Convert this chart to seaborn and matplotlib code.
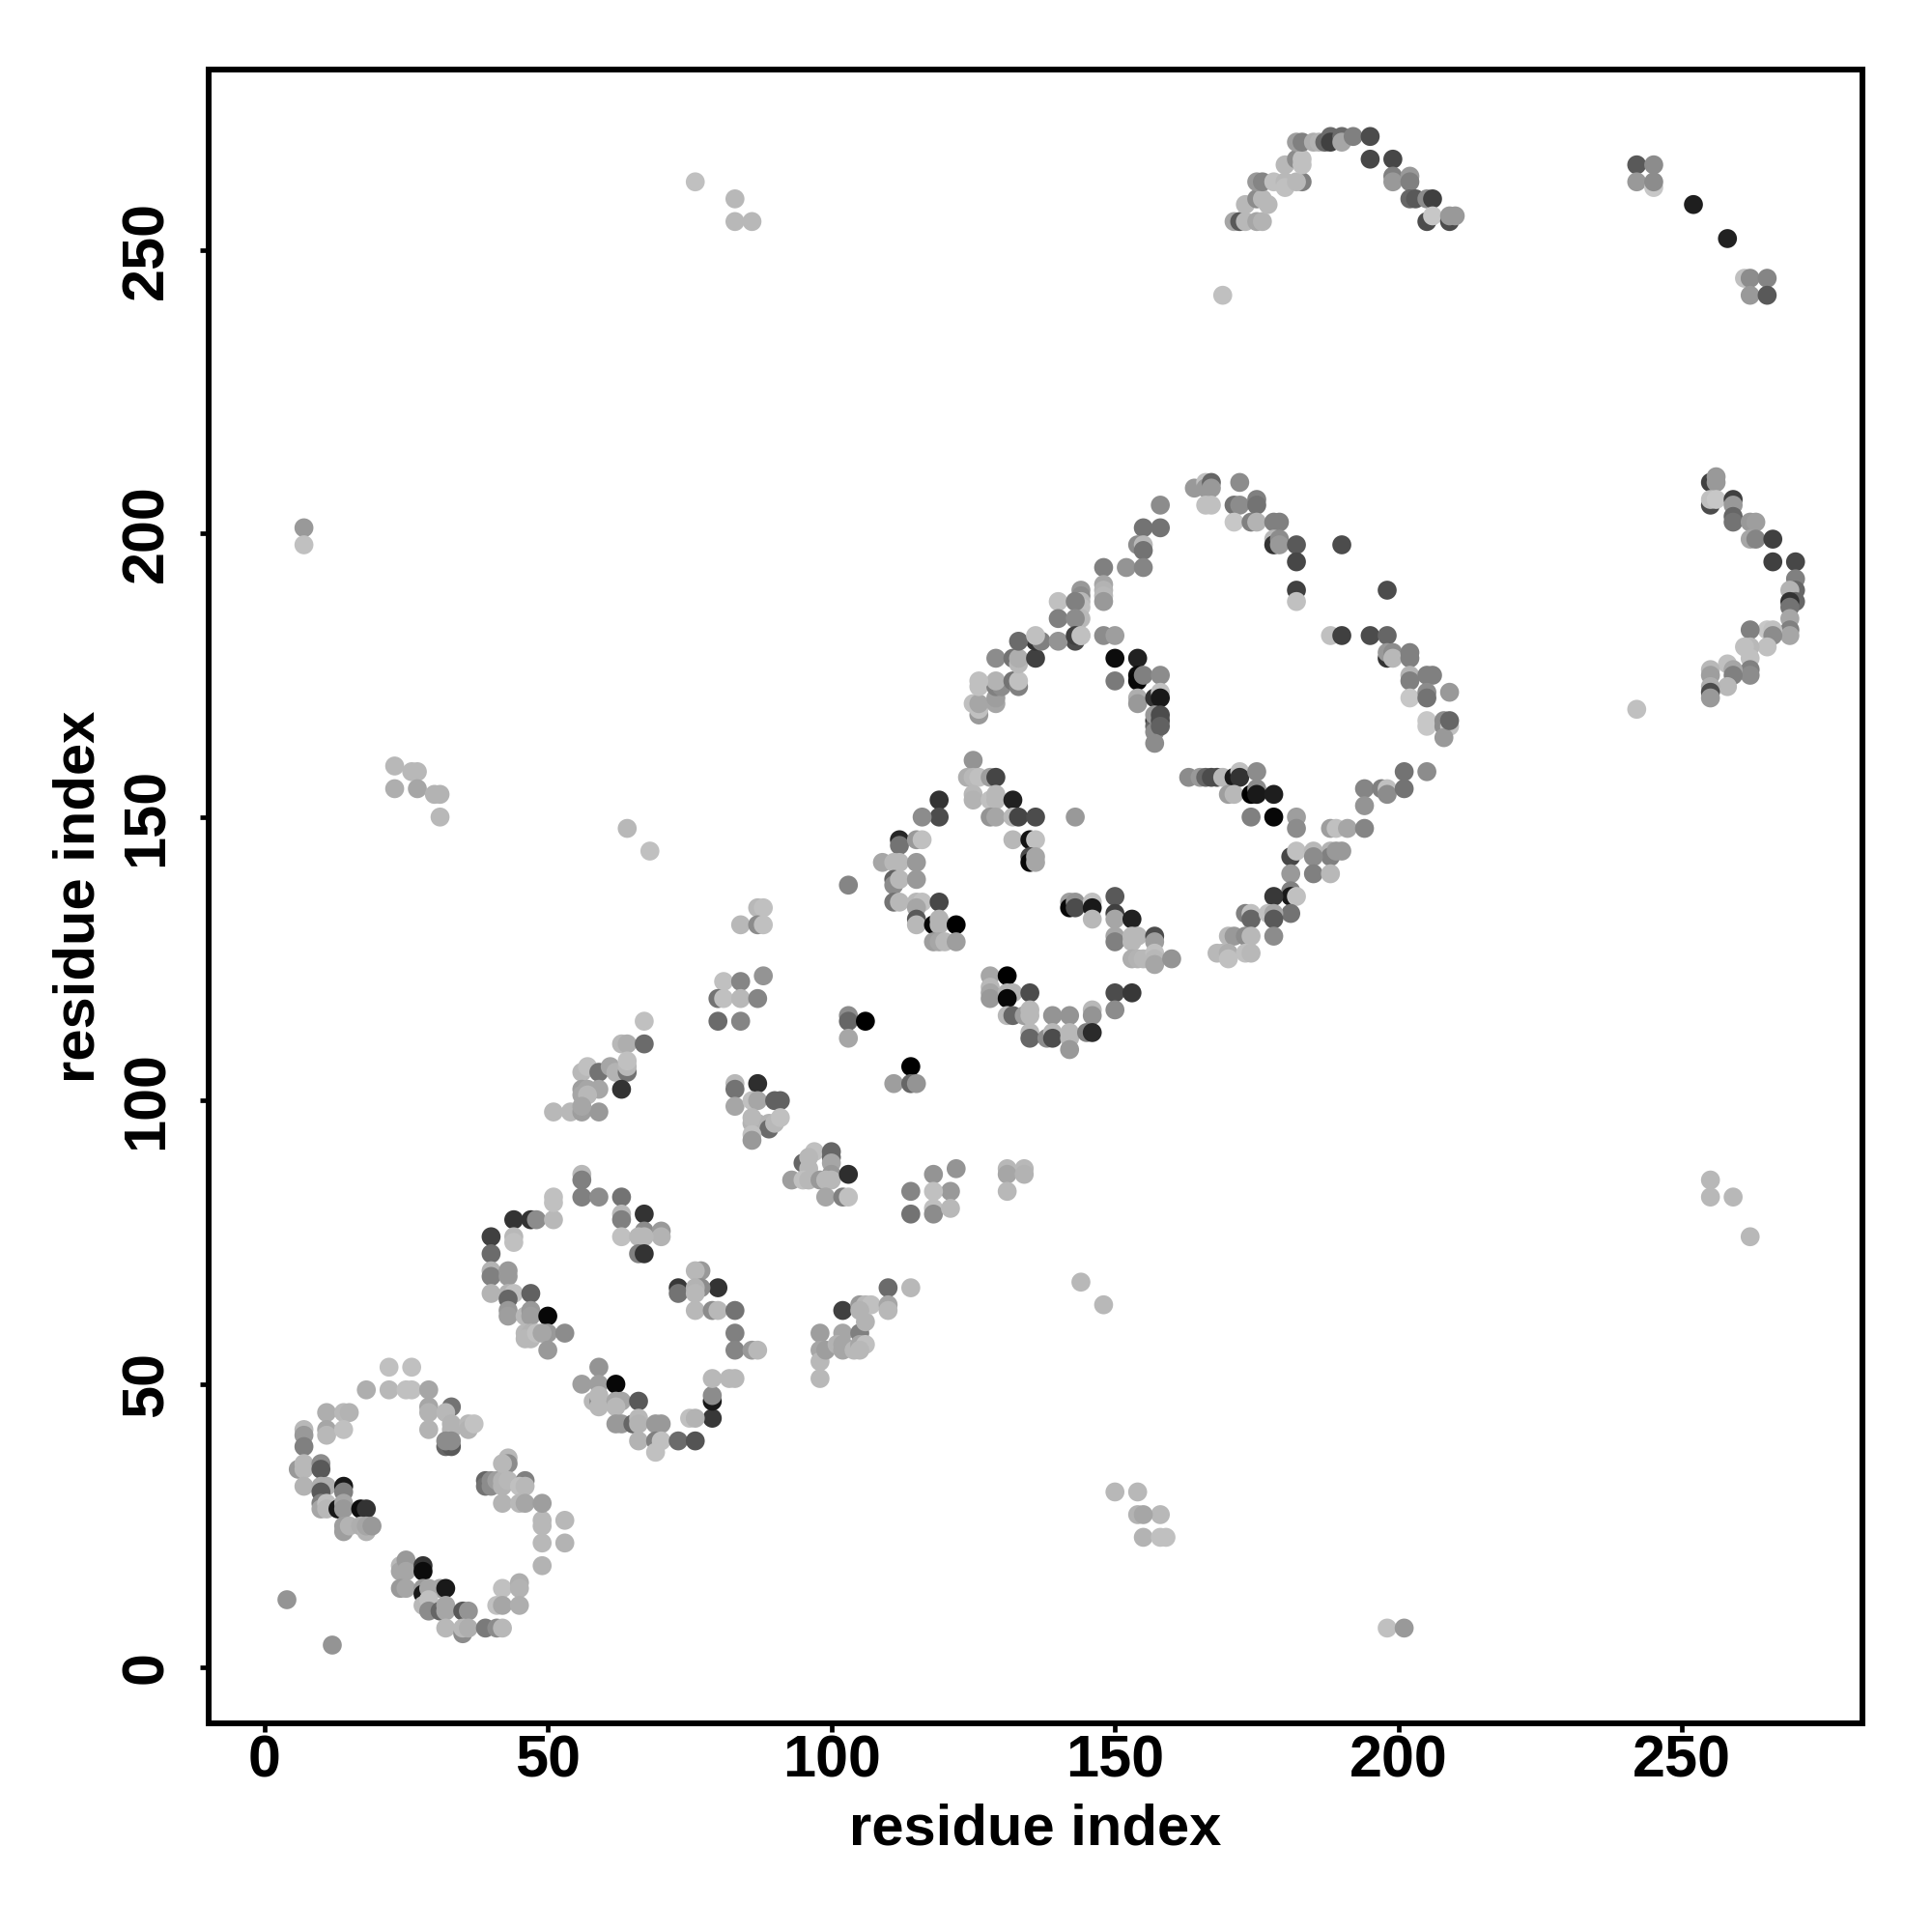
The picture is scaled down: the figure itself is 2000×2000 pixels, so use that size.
import matplotlib
matplotlib.use("Agg")
import matplotlib.pyplot as plt
import pandas as pd
import seaborn as sns

# lower-left ring
ring1_x = [4,12,22,26,18,22,25,26,29,29,29,33,32,29,33,33,36,36,37,32,33,33,32,11,14,15,11,11,14,7,7,7,6,7,7,10,10,7,10,11,10,14,14,10,10,11,11,13,14,14,17,18,14,14,15,17,18,18,19]
ring1_y = [12,4,53,53,49,49,49,49,49,46,45,46,45,42,43,42,43,42,43,39,39,40,40,45,45,45,42,41,42,42,41,39,35,36,35,36,35,32,32,32,31,32,31,29,28,29,28,28,29,28,28,28,25,24,25,25,24,25,25]
ring1_g = [.58,.58,.75,.75,.68,.72,.75,.75,.65,.65,.7,.45,.72,.7,.7,.7,.72,.7,.76,.4,.35,.55,.55,.68,.72,.7,.65,.72,.75,.72,.6,.5,.6,.72,.72,.55,.35,.7,.68,.68,.35,.1,.5,.5,.65,.75,.72,.1,.65,.6,.05,.2,.62,.62,.7,.68,.7,.65,.6]

ring2_x = [24,24,25,25,24,25,28,28,28,28,29,31,32,28,29,29,31,32,32,35,36,32,35,35,36,39,41,42,42,45,45,41,42,45,49,49,49,49,53,53,39,39,40,40,41,42,42,42,43,43,42,43,46,45,46,45,46,49]
ring2_y = [18,17,19,17,14,14,18,17,14,13,14,14,14,11,12,10,10,11,10,10,10,7,6,7,7,7,7,7,14,15,14,11,11,11,18,22,26,25,26,22,33,32,33,32,33,33,32,29,37,36,36,33,33,32,32,29,29,29]
ring2_g = [.72,.65,.6,.65,.6,.65,.2,.05,.6,.1,.65,.65,.1,.72,.75,.55,.4,.65,.65,.35,.58,.72,.55,.72,.68,.48,.55,.72,.75,.68,.7,.75,.65,.68,.7,.72,.72,.72,.72,.7,.4,.45,.55,.55,.62,.7,.7,.7,.72,.55,.72,.72,.5,.75,.72,.72,.65,.62]

band1_x = [40,40,40,40,43,43,40,43,44,47,43,43,43,46,47,47,50,46,47,46,47,48,50,49,53,50,44,47,48,51,51,51,44,44,56,56,56,59,63,63,63,63,67,67,70,70,66,67,66,67]
band1_y = [76,73,70,69,70,69,66,66,66,66,65,63,62,62,63,62,62,59,59,58,58,59,59,59,59,56,79,79,79,79,83,82,76,75,83,87,86,83,83,80,79,76,80,77,77,76,76,76,73,73]
band1_g = [.25,.42,.7,.5,.6,.6,.7,.7,.75,.38,.4,.6,.62,.72,.6,.62,.03,.72,.7,.72,.72,.75,.6,.65,.55,.6,.2,.2,.55,.72,.75,.75,.72,.75,.5,.72,.5,.55,.45,.72,.5,.75,.2,.55,.6,.7,.72,.72,.5,.2]

band2_x = [73,73,80,77,76,77,76,76,76,79,80,83,83,83,86,87,59,56,59,62,58,59,59,59,62,63,66,62,62,63,65,66,66,69,70,66,69,70,69,73,76,79,79,79,75,76,79,82,83]
band2_y = [67,66,67,70,70,67,67,66,63,63,63,63,59,56,56,56,53,50,50,50,47,47,48,46,47,47,47,46,43,43,43,44,43,43,43,40,40,40,38,40,40,44,47,48,44,44,51,51,51]
band2_g = [.22,.45,.2,.6,.72,.55,.7,.72,.72,.55,.72,.45,.5,.52,.6,.72,.58,.62,.62,.03,.72,.55,.72,.72,.65,.65,.35,.72,.6,.6,.4,.72,.7,.6,.6,.7,.5,.75,.75,.42,.33,.22,.1,.55,.75,.7,.72,.72,.72]

band3_x = [67,63,64,67,56,57,59,61,62,64,64,64,63,56,57,59,56,57,51,54,56,59,56,81,84,88,80,81,84,87,80,84,103,103,106,103,114,111,114,115,87,88,84,87,88]
band3_y = [114,110,110,110,105,106,105,106,105,105,106,107,102,102,102,102,101,101,98,98,98,98,99,121,121,122,118,118,118,118,114,114,115,114,114,111,106,103,103,103,134,134,131,131,131]
band3_g = [.75,.72,.68,.42,.72,.75,.45,.65,.7,.45,.72,.75,.2,.62,.65,.65,.65,.72,.72,.72,.62,.6,.65,.75,.52,.58,.45,.75,.72,.52,.42,.52,.55,.4,.0,.65,.0,.62,.4,.58,.72,.75,.72,.55,.75]

band4_x = [83,83,87,83,86,87,90,91,86,87,86,89,89,90,91,86,86,95,97,96,96,96,93,95,96,98,100,100,100,100,99,100,103,99,102,103,114,118,122,121,118,114,118,118,121]
band4_y = [103,102,103,99,100,100,100,100,96,96,97,96,95,96,97,94,93,89,91,90,88,87,86,86,86,86,91,90,89,87,86,86,87,83,83,83,84,87,88,84,84,80,81,80,81]
band4_g = [.72,.45,.18,.65,.75,.65,.38,.38,.7,.7,.72,.7,.42,.72,.75,.75,.6,.4,.75,.72,.72,.72,.62,.75,.72,.6,.4,.4,.65,.6,.72,.72,.18,.65,.5,.75,.52,.58,.58,.6,.75,.45,.75,.55,.72]

band5_x = [98,98,98,98,99,102,102,101,102,102,104,105,105,106,105,106,105,106,107,105,110,110,110,114]
band5_y = [59,56,54,51,56,63,59,57,57,56,56,59,57,57,56,61,64,64,64,63,67,64,63,67]
band5_g = [.62,.65,.72,.72,.62,.25,.65,.7,.65,.65,.72,.5,.65,.75,.72,.7,.6,.72,.75,.7,.42,.65,.72,.72]

core1_x = [125,124,125,126,128,129,125,125,128,129,129,128,129,132,132,133,136,132,135,136,135,135,136,136,143,119,119,116,112,112,115,116,109,111,112,115,111,111,112,115,111,112,115,116,115,119,115,115,118,119,119,122,118,119,120,122,103]
core1_y = [160,157,157,157,157,157,154,153,153,154,153,150,150,153,150,150,150,146,146,146,143,142,143,142,150,153,150,150,146,145,146,146,142,142,142,142,139,138,139,139,135,135,135,135,134,135,132,131,131,132,131,131,128,128,128,128,138]
core1_g = [.58,.68,.72,.75,.62,.27,.72,.7,.75,.72,.72,.58,.65,.13,.72,.27,.3,.72,.08,.75,.3,.03,.65,.65,.6,.2,.3,.55,.15,.45,.6,.75,.65,.72,.72,.6,.38,.55,.72,.6,.45,.72,.72,.75,.65,.28,.35,.72,.03,.7,.7,.0,.62,.65,.72,.62,.52]

core2_x = [142,142,143,143,146,146,146,150,150,150,153,150,150,153,154,153,157,157,153,154,155,157,157,157,160,128,131,128,128,128,131,132,131,135,131,132,134,135,135,139,142,146,146,135,135,138,139,139,142,142,142,145,146,150,153,150]
core2_y = [135,134,135,134,135,134,132,136,133,132,132,129,128,129,129,128,129,128,125,125,125,126,125,124,125,122,122,120,119,118,119,119,118,119,115,115,115,116,115,115,115,116,115,112,111,111,112,111,112,111,109,112,112,119,119,116]
core2_g = [.62,.03,.58,.3,.75,.1,.72,.35,.25,.65,.13,.65,.5,.72,.72,.72,.3,.62,.68,.7,.72,.75,.72,.65,.58,.65,.0,.72,.65,.6,.7,.7,.03,.3,.72,.4,.62,.72,.72,.58,.58,.72,.58,.72,.4,.55,.72,.3,.72,.72,.6,.5,.17,.3,.22,.55]

core3_x = [163,165,166,167,168,169,171,172,172,175,170,171,174,175,175,178,174,178,182,182,181,182,181,181,181,182,178,181,173,174,174,177,178,178,170,171,173,174,178,168,169,170,170,173,174]
core3_y = [157,157,157,157,157,157,157,158,157,158,154,154,154,155,154,154,150,150,150,148,143,144,140,137,136,136,136,133,133,133,132,133,133,132,129,129,129,129,129,126,126,126,125,126,126]
core3_g = [.55,.6,.4,.3,.3,.72,.1,.75,.2,.55,.62,.72,.0,.55,.1,.12,.5,.03,.62,.55,.28,.75,.6,.5,.1,.75,.22,.45,.5,.75,.4,.75,.65,.35,.72,.6,.55,.72,.55,.72,.72,.68,.75,.75,.72]

# arm running up to the top of the central block
arm_x = [126,126,125,126,126,129,129,129,130,129,126,132,133,133,129,132,133,133,136,136,137,133,136,143,144,140,140,140]
arm_y = [168,169,170,170,173,170,171,173,173,174,174,174,173,174,178,178,177,178,178,181,181,181,182,181,182,188,185,181]
arm_g = [.6,.75,.75,.65,.75,.65,.62,.5,.55,.7,.75,.45,.5,.75,.55,.45,.72,.68,.25,.2,.5,.42,.75,.3,.75,.75,.5,.58]

upper1_x = [164,166,166,167,167,166,167,172,158,155,158,154,155,155,148,152,155,148,148,148,148,144,144,144,144,144,143,143,143,144,148,150,150,154,150,154,154,155,158,154,154,157,158,158,157,157,157,157,158,158,158,157]
upper1_y = [208,209,208,209,208,205,205,209,205,201,201,198,198,197,194,194,194,191,190,189,188,190,189,188,187,185,188,185,182,182,182,182,178,178,174,175,174,175,175,171,170,171,172,171,167,166,165,168,168,167,166,163]
upper1_g = [.6,.75,.6,.4,.6,.75,.75,.55,.55,.45,.45,.55,.72,.45,.5,.58,.52,.65,.7,.72,.6,.6,.55,.72,.75,.72,.5,.55,.25,.75,.55,.62,.05,.13,.48,.05,.03,.5,.55,.68,.6,.2,.75,.1,.2,.4,.55,.6,.3,.3,.38,.55]

upper2_x = [171,172,175,175,171,174,175,178,179,178,178,179,179,182,182,190,182,182,198,188,190,195,198,198,198,199,199,202,202,202,202,205,206,202,205,205,209,205,205,208,208,209,208,209,201,205,194,197,198,198,201,194,188,189,191,194,185,188,188,190,189,185,185,188]
upper2_y = [205,205,206,205,202,202,202,202,202,199,198,199,198,198,195,198,190,188,190,182,182,182,182,178,179,179,178,179,178,175,174,175,175,171,172,171,172,167,166,167,166,166,164,167,158,158,155,155,155,154,155,152,148,148,148,148,144,144,143,144,144,143,140,140]
upper2_g = [.45,.55,.5,.45,.78,.5,.7,.5,.5,.72,.2,.55,.6,.35,.28,.3,.25,.75,.3,.75,.25,.3,.4,.2,.6,.55,.72,.5,.5,.7,.5,.5,.5,.78,.55,.45,.6,.78,.78,.55,.55,.75,.6,.4,.45,.55,.52,.5,.75,.55,.45,.58,.62,.75,.65,.52,.72,.7,.5,.6,.6,.55,.5,.72]

arc_x = [169,171,172,173,175,176,173,175,176,177,175,176,178,180,180,183,182,180,182,183,183,182,183,185,186,187,188,188,190,190,192,195,195,199,199,199,202,202,202,203,205,206,205,206,209,209,210,242,245,242,245,245,252,258,261,262,265,262,265]
arc_y = [242,255,255,255,255,255,258,259,259,258,262,262,262,262,261,262,262,265,266,266,265,269,269,269,269,269,270,269,270,269,270,270,266,266,263,262,263,262,259,259,259,259,255,256,255,256,256,265,265,262,261,262,258,252,245,245,245,242,242]
arc_g = [.75,.65,.35,.72,.65,.7,.72,.55,.72,.72,.6,.52,.75,.72,.75,.5,.72,.72,.55,.75,.75,.62,.5,.68,.7,.4,.42,.25,.42,.65,.5,.3,.28,.28,.5,.6,.6,.5,.4,.35,.55,.25,.3,.78,.3,.6,.6,.35,.55,.6,.78,.55,.12,.13,.75,.55,.52,.6,.35]

right_x = [255,256,256,255,255,256,259,259,259,259,262,263,262,263,266,266,270,270,270,269,270,269,269,269,269,269,265,266,266,265,262,262,261,262,262,262,258,259,259,258,255,255,255,255,255,242]
right_y = [209,210,209,205,206,206,206,205,203,202,202,202,199,199,199,195,195,192,190,190,188,188,187,185,183,182,183,183,182,180,183,180,180,178,176,175,177,176,175,173,176,175,173,172,171,169]
right_g = [.25,.6,.6,.3,.75,.78,.25,.6,.4,.45,.6,.62,.65,.52,.25,.25,.28,.5,.4,.7,.4,.2,.45,.65,.5,.65,.78,.75,.55,.75,.5,.72,.75,.75,.5,.55,.75,.65,.5,.72,.72,.62,.68,.3,.6,.75]

far_x = [7,7,23,23,26,27,27,30,31,31,64,68,76,83,83,86,144,148,150,154,154,158,155,155,158,159,198,201,255,255,259,262,131,134,131,131,134]
far_y = [201,198,159,155,158,158,155,154,154,150,148,144,262,259,255,255,68,64,31,31,27,27,27,23,23,23,7,7,86,83,83,76,88,88,87,84,87]
far_g = [.6,.75,.72,.68,.72,.72,.65,.7,.7,.72,.72,.75,.75,.72,.72,.72,.72,.72,.72,.72,.7,.72,.65,.7,.75,.75,.75,.6,.72,.72,.72,.72,.72,.72,.65,.72,.7]

x_ticks = [0, 50, 100, 150, 200, 250]
y_ticks = [0, 50, 100, 150, 200, 250]
axis_title = "residue index"

residue_i = ring1_x + ring2_x + band1_x + band2_x + band3_x + band4_x + band5_x + core1_x + core2_x + core3_x + arm_x + upper1_x + upper2_x + arc_x + right_x + far_x
residue_j = ring1_y + ring2_y + band1_y + band2_y + band3_y + band4_y + band5_y + core1_y + core2_y + core3_y + arm_y + upper1_y + upper2_y + arc_y + right_y + far_y
score = ring1_g + ring2_g + band1_g + band2_g + band3_g + band4_g + band5_g + core1_g + core2_g + core3_g + arm_g + upper1_g + upper2_g + arc_g + right_g + far_g
df = pd.DataFrame({"i": residue_i, "j": residue_j, "score": score})

sns.set_theme(style="white")
plt.rcParams["font.family"] = ["Liberation Sans", "DejaVu Sans"]
fig = plt.figure(figsize=(10, 10), dpi=200)
ax = fig.add_axes([216/2000, 1-1784/2000, 1712/2000, 1712/2000])
sns.scatterplot(data=df, x="i", y="j", hue="score", palette="gray", hue_norm=(0, 1),
                s=50, linewidth=0, legend=False, ax=ax, clip_on=True)
ax.set_xlim(-9.8, 281.8)
ax.set_ylim(-9.8, 281.8)
ax.set_xticks(x_ticks)
ax.set_yticks(y_ticks)
ax.tick_params(axis="x", length=3.2, width=1.7, color="black", bottom=True,
               labelsize=22, labelcolor="black", pad=1.0)
ax.tick_params(axis="y", length=3.2, width=1.7, color="black", left=True,
               labelsize=22, labelcolor="black", pad=9.2)
for t in ax.get_xticklabels():
    t.set_fontweight("bold")
for t in ax.get_yticklabels():
    t.set_fontweight("bold")
    t.set_rotation(90)
    t.set_va("center")
ax.set_xlabel(axis_title, fontsize=21.5, fontweight="bold", color="black", labelpad=4.8)
ax.set_ylabel(axis_title, fontsize=21.5, fontweight="bold", color="black", labelpad=5.6)
for s in ax.spines.values():
    s.set_visible(True)
    s.set_color("black")
    s.set_linewidth(2.16)
fig.savefig("out.png", dpi=200, facecolor="white")
